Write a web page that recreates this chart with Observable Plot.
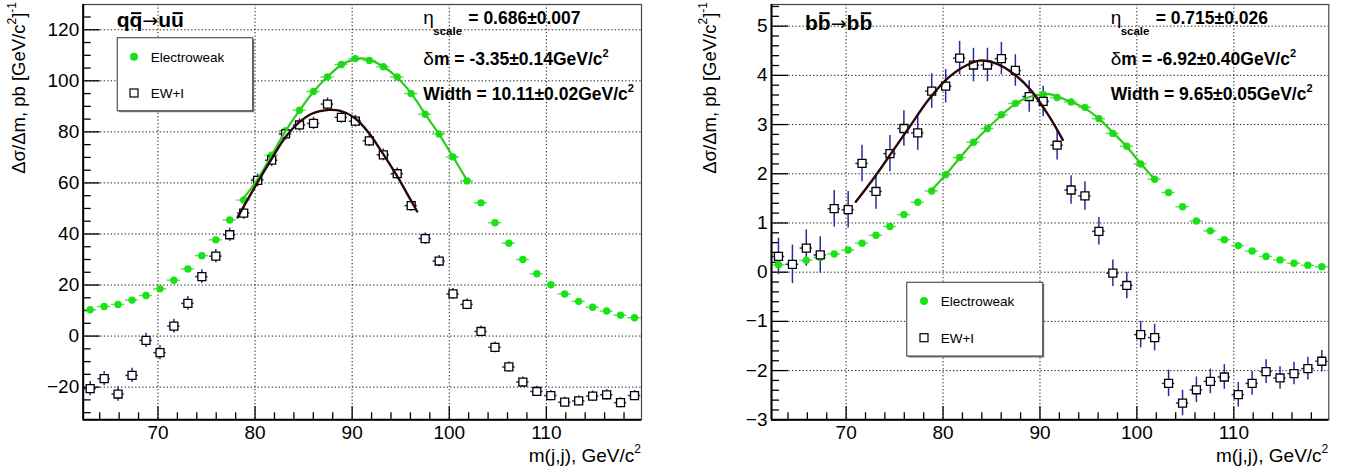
<!DOCTYPE html>
<html><head><meta charset="utf-8">
<script src="https://cdn.jsdelivr.net/npm/d3@7"></script>
<script src="https://cdn.jsdelivr.net/npm/@observablehq/plot@0.6"></script>
<style>
body{margin:0;background:#fff;}
#wrap{position:relative;width:1354px;height:475px;overflow:hidden;}
.panel{position:absolute;top:0;}
</style></head><body><div id="wrap"><div id="pL" class="panel" style="left:0"></div><div id="pR" class="panel" style="left:677px"></div></div>
<script>
// ---------- DATA ----------
const massBins = [63.02,64.46,65.89,67.33,68.77,70.21,71.64,73.08,74.52,75.96,77.39,78.83,80.27,81.71,83.14,84.58,86.02,87.46,88.89,90.33,91.77,93.21,94.64,96.08,97.52,98.96,100.39,101.83,103.27,104.71,106.14,107.58,109.02,110.46,111.89,113.33,114.77,116.21,117.64,119.08];

// q qbar -> u ubar
const ewUU  = [10.3,11.6,12.4,14.1,15.9,18.5,21.9,26.3,31.5,37.7,45.5,53.3,61.5,70.9,80.4,88.5,95.8,101.5,106.4,108.7,108.0,105.5,101.5,95.0,86.9,79.2,70.2,60.8,52.2,44.4,36.4,30.0,24.4,20.1,16.5,13.6,11.3,9.8,8.2,7.2];
const ewiUU = [-20.6,-16.7,-22.7,-15.4,-1.7,-6.5,3.9,12.8,23.3,31.3,39.7,48.2,61.0,68.9,79.2,82.7,83.3,90.9,85.7,84.2,76.5,71.0,63.6,51.1,38.2,29.4,16.5,12.4,1.8,-4.4,-12.1,-18.0,-21.7,-23.3,-25.9,-25.4,-23.5,-23.0,-26.1,-23.3];
const ewiUUerr = [2.8,2.8,2.8,2.8,2.8,2.8,2.7,2.7,2.7,2.6,2.6,2.5,2.5,2.5,2.4,2.4,2.4,2.4,2.3,2.3,2.3,2.3,2.2,2.2,2.2,2.2,2.1,2.1,2.1,2.1,2.0,2.0,2.0,2.0,2.0,2.0,2.0,2.0,2.0,2.0];
const fitEwUUx  = [78.6,80.27,81.71,83.14,84.58,86.02,87.46,88.89,90.33,91.0,91.77,93.21,94.64,96.08,97.52,98.96,100.39,101.9];
const fitEwUUy  = [53.0,61.5,70.9,80.3,88.4,95.7,101.6,106.2,108.5,108.8,108.3,105.6,101.3,95.1,87.0,79.0,70.2,60.6];
const fitEwiUUx = [78.2,80.2,81.6,83.1,84.5,85.9,87.6,88.8,90.2,91.7,93.1,94.5,96.0,96.7];
const fitEwiUUy = [46.5,59.8,68.7,77.8,83.6,87.2,88.6,88.2,85.6,79.7,71.9,63.5,53.5,48.8];

// b bbar -> b bbar
const ewBB  = [0.15,0.16,0.24,0.30,0.37,0.45,0.59,0.75,0.93,1.17,1.42,1.65,1.98,2.33,2.64,2.92,3.20,3.43,3.56,3.61,3.55,3.46,3.35,3.12,2.82,2.56,2.20,1.89,1.62,1.33,1.04,0.84,0.66,0.54,0.43,0.32,0.25,0.18,0.14,0.11];
const ewiBB = [0.32,0.16,0.49,0.35,1.29,1.27,2.21,1.64,2.41,2.92,2.83,3.68,3.78,4.35,4.21,4.21,4.34,4.10,3.57,3.47,2.58,1.67,1.55,0.83,-0.02,-0.27,-1.27,-1.33,-2.26,-2.66,-2.39,-2.22,-2.13,-2.49,-2.26,-2.02,-2.15,-2.06,-1.96,-1.81];
const ewiBBerr = [0.37,0.39,0.37,0.37,0.37,0.37,0.37,0.36,0.37,0.36,0.35,0.35,0.34,0.34,0.34,0.34,0.33,0.32,0.32,0.31,0.30,0.29,0.29,0.28,0.27,0.27,0.27,0.27,0.27,0.26,0.26,0.25,0.25,0.25,0.24,0.24,0.23,0.23,0.23,0.22];
const fitEwBBx  = [78.75,80.27,81.71,83.14,84.58,86.02,87.46,88.89,90.33,91.0,91.77,93.21,94.64,96.08,97.52,98.96,100.39,101.83];
const fitEwBBy  = [1.65,1.98,2.32,2.64,2.92,3.19,3.42,3.56,3.61,3.62,3.57,3.46,3.33,3.12,2.84,2.55,2.21,1.89];
const fitEwiBBx = [71.0,73.0,74.8,76.6,78.4,80.2,82.0,83.75,85.5,87.3,89.1,90.9,92.35];
const fitEwiBBy = [1.43,1.95,2.46,2.97,3.48,3.89,4.16,4.30,4.24,4.03,3.69,3.18,2.69];

// axes / ticks
const xDomain = [62.3, 119.8];
const xMajorTicks = [70, 80, 90, 100, 110];
const xMinorTicks = [64,66,68,72,74,76,78,82,84,86,88,92,94,96,98,102,104,106,108,112,114,116,118];
const yDomainUU = [-32.8, 129.9];
const yMajorUU = [-20,0,20,40,60,80,100,120];
const yMinorUU = [-30,-25,-15,-10,-5,5,10,15,25,30,35,45,50,55,65,70,75,85,90,95,105,110,115,125];
const yDomainBB = [-3, 5.44];
const yMajorBB = [-3,-2,-1,0,1,2,3,4,5];
const yMinorBB = [-2.8,-2.6,-2.4,-2.2,-1.8,-1.6,-1.4,-1.2,-0.8,-0.6,-0.4,-0.2,0.2,0.4,0.6,0.8,1.2,1.4,1.6,1.8,2.2,2.4,2.6,2.8,3.2,3.4,3.6,3.8,4.2,4.4,4.6,4.8,5.2,5.4];

// texts
const legendLabels = ["Electroweak", "EW+I"];
const xLabel = "m(j,j), GeV/c";
const yLabel = "\u0394\u03c3/\u0394m, pb [GeV/c";
const statsUU = ["= 0.686\u00b10.007", "= -3.35\u00b10.14GeV/c", "= 10.11\u00b10.02GeV/c"];
const statsBB = ["= 0.715\u00b10.026", "= -6.92\u00b10.40GeV/c", "= 9.65\u00b10.05GeV/c"];
const titleUU = ["qq", "\u2192", "uu"];
const titleBB = ["bb", "\u2192", "bb"];

// ---------- STYLE ----------
const FONT = '"Liberation Sans", Arial, Helvetica, sans-serif';
const GREEN = "#17e317", GREEN_FIT = "#2ecc1a", GREEN_ERR = "#55e055", BLUE = "#2a2a9e", FIT_DARK = "#2a0808";

function makePanel(o) {
  const W = 677, H = 475, mt = 4, mb = 55.7;
  const innerW = W - o.ml - o.mr, innerH = H - mt - mb;
  const xu = (xDomain[1] - xDomain[0]) / innerW;
  const yu = (o.yDomain[1] - o.yDomain[0]) / innerH;
  const pts = massBins.map((x, i) => ({x, ew: o.ew[i], ewi: o.ewi[i], err: o.err[i]}));
  const fitA = o.fitEwX.map((x, i) => ({x, y: o.fitEwY[i]}));
  const fitB = o.fitEwiX.map((x, i) => ({x, y: o.fitEwiY[i]}));
  const x0 = xDomain[0], y0 = o.yDomain[0];
  const fmt = d => d < 0 ? "\u2212" + Math.abs(d) : String(d);
  return Plot.plot({
    width: W, height: H, marginLeft: o.ml, marginRight: o.mr, marginTop: mt, marginBottom: mb,
    x: {domain: xDomain}, y: {domain: o.yDomain},
    style: {fontFamily: FONT, fontSize: "19px", color: "#000", background: "#fff", overflow: "visible"},
    marks: [
      Plot.gridX(xMajorTicks, {stroke: "#000", strokeOpacity: 0.9, strokeDasharray: "1.3,2.2"}),
      Plot.gridY(o.yMajor, {stroke: "#000", strokeOpacity: 0.9, strokeDasharray: "1.3,2.2"}),
      Plot.ruleY(o.yMajor, {y: d => d, x1: x0, x2: x0 + 17 * xu, stroke: "#000", strokeWidth: 1.3}),
      Plot.ruleY(o.yMinor, {y: d => d, x1: x0, x2: x0 + 8 * xu, stroke: "#000", strokeWidth: 1.3}),
      Plot.ruleX(xMajorTicks, {x: d => d, y1: y0, y2: y0 + 13 * yu, stroke: "#000", strokeWidth: 1.3}),
      Plot.ruleX(xMinorTicks, {x: d => d, y1: y0, y2: y0 + 7 * yu, stroke: "#000", strokeWidth: 1.3}),
      Plot.ruleY(pts, {y: "ew", x1: d => d.x - 0.68, x2: d => d.x + 0.68, stroke: GREEN_ERR, strokeWidth: 1.4}),
      Plot.ruleX(pts, {x: "x", y1: d => d.ewi - d.err, y2: d => d.ewi + d.err, stroke: BLUE, strokeWidth: 1.5}),
      Plot.ruleY(pts, {y: "ewi", x1: d => d.x - 0.64, x2: d => d.x + 0.64, stroke: BLUE, strokeWidth: 1.5}),
      Plot.dot(pts, {x: "x", y: "ew", r: 3.7, fill: GREEN}),
      Plot.dot(pts, {x: "x", y: "ewi", symbol: "square", r: 4.5, fill: "#fff", stroke: "#000", strokeWidth: 1.3}),
      Plot.line(fitA, {x: "x", y: "y", curve: "catmull-rom", stroke: GREEN_FIT, strokeWidth: 2.2}),
      Plot.line(fitB, {x: "x", y: "y", curve: "catmull-rom", stroke: FIT_DARK, strokeWidth: 2.4}),
      Plot.frame({stroke: "#444", strokeWidth: 1.2}),
      Plot.ruleX([x0], {stroke: "#000", strokeWidth: 2}),
      Plot.ruleY([y0], {stroke: "#000", strokeWidth: 2}),
      Plot.axisX(xMajorTicks, {tickSize: 0, tickPadding: 6, label: null, tickFormat: fmt}),
      Plot.axisY(o.yMajor, {tickSize: 0, tickPadding: 4, label: null, tickFormat: fmt})
    ]
  });
}

function annotate(svg, a) {
  const g = d3.select(svg).append("g").attr("font-family", FONT).attr("fill", "#000")
    .attr("text-anchor", "start").style("text-anchor", "start");
  // title with overlines
  const t = g.append("text").attr("x", a.titleX).attr("y", a.titleY).attr("text-anchor", "start")
    .attr("font-size", 21).attr("font-weight", "bold");
  t.append("tspan").text(a.title[0]);
  t.append("tspan").attr("font-family", '"DejaVu Sans", sans-serif').attr("font-weight", "normal")
    .attr("font-size", 19).text(a.title[1]);
  t.append("tspan").text(a.title[2]);
  a.over.forEach(i => {
    const e = t.node().getExtentOfChar(i);
    g.append("line").attr("x1", e.x + 1.5).attr("x2", e.x + e.width - 1)
      .attr("y1", a.titleY - a.overOff * 21).attr("y2", a.titleY - a.overOff * 21)
      .attr("stroke", "#000").attr("stroke-width", 2);
  });
  // stats
  const sx = a.statsX;
  g.append("text").attr("x", sx).attr("y", 24).attr("font-size", 19).text("\u03b7");
  g.append("text").attr("x", sx + 10).attr("y", 34.5).attr("font-size", 11.5).attr("font-weight", "bold").text("scale");
  g.append("text").attr("x", sx + 45).attr("y", 24).attr("font-size", 17.5).attr("font-weight", "bold").text(a.stats[0]);
  const l2 = g.append("text").attr("x", sx).attr("y", 65).attr("font-size", 17.5).attr("font-weight", "bold");
  l2.append("tspan").attr("font-weight", "normal").attr("font-size", 19).text("\u03b4");
  l2.append("tspan").text("m " + a.stats[1]);
  l2.append("tspan").attr("font-size", 11).attr("dy", -8).text("2");
  const l3 = g.append("text").attr("x", sx).attr("y", 100).attr("font-size", 17.5).attr("font-weight", "bold");
  l3.append("tspan").text("Width " + a.stats[2]);
  l3.append("tspan").attr("font-size", 11).attr("dy", -8).text("2");
  // axis titles
  const xl = g.append("text").attr("x", a.xLabelEnd).attr("y", 462).attr("font-size", 19).attr("text-anchor", "end").style("text-anchor", "end");
  xl.append("tspan").text(xLabel);
  xl.append("tspan").attr("font-size", 12).attr("dy", -9).text("2");
  const yl = g.append("text").attr("transform", `translate(${a.yLabelX},2) rotate(-90)`)
    .attr("font-size", 18.5).attr("text-anchor", "end").style("text-anchor", "end");
  yl.append("tspan").text(yLabel);
  yl.append("tspan").attr("font-size", 12).attr("dy", -9).text("2");
  yl.append("tspan").attr("dy", 9).text("]");
  yl.append("tspan").attr("font-size", 12).attr("dy", -9).text("-1");
  // legend
  const [bx, by, bw, bh] = a.legend;
  g.append("rect").attr("x", bx + 1.5).attr("y", by + 1.5).attr("width", bw).attr("height", bh).attr("fill", "#777");
  g.append("rect").attr("x", bx).attr("y", by).attr("width", bw).attr("height", bh)
    .attr("fill", "#fff").attr("stroke", "#555").attr("stroke-width", 1.2);
  g.append("circle").attr("cx", a.legMX).attr("cy", a.legY1).attr("r", 4).attr("fill", GREEN);
  g.append("rect").attr("x", a.legMX - 4).attr("y", a.legY2 - 4).attr("width", 8).attr("height", 8)
    .attr("fill", "#fff").attr("stroke", "#000").attr("stroke-width", 1.2);
  g.append("text").attr("x", a.legTX).attr("y", a.legY1 + 4.8).attr("font-size", 13.5).text(legendLabels[0]);
  g.append("text").attr("x", a.legTX).attr("y", a.legY2 + 4.8).attr("font-size", 13.5).text(legendLabels[1]);
}

const left = makePanel({ml: 82.7, mr: 36, yDomain: yDomainUU, yMajor: yMajorUU, yMinor: yMinorUU,
  ew: ewUU, ewi: ewiUU, err: ewiUUerr, fitEwX: fitEwUUx, fitEwY: fitEwUUy, fitEwiX: fitEwiUUx, fitEwiY: fitEwiUUy});
document.getElementById("pL").appendChild(left);
annotate(left, {title: titleUU, over: [1, 4], titleX: 116.7, titleY: 27, overOff: 0.66,
  statsX: 423.3, stats: statsUU, xLabelEnd: 641, yLabelX: 25,
  legend: [117.3, 37.7, 135.4, 73], legMX: 134, legY1: 56.7, legY2: 93, legTX: 150.7});

const right = makePanel({ml: 94, mr: 25.7, yDomain: yDomainBB, yMajor: yMajorBB, yMinor: yMinorBB,
  ew: ewBB, ewi: ewiBB, err: ewiBBerr, fitEwX: fitEwBBx, fitEwY: fitEwBBy, fitEwiX: fitEwiBBx, fitEwiY: fitEwiBBy});
document.getElementById("pR").appendChild(right);
annotate(right, {title: titleBB, over: [1, 4], titleX: 128, titleY: 30, overOff: 0.8,
  statsX: 433.7, stats: statsBB, xLabelEnd: 651.3, yLabelX: 39,
  legend: [229.7, 282.3, 136, 73.7], legMX: 247, legY1: 301, legY2: 337.7, legTX: 263.7});
</script></body></html>
